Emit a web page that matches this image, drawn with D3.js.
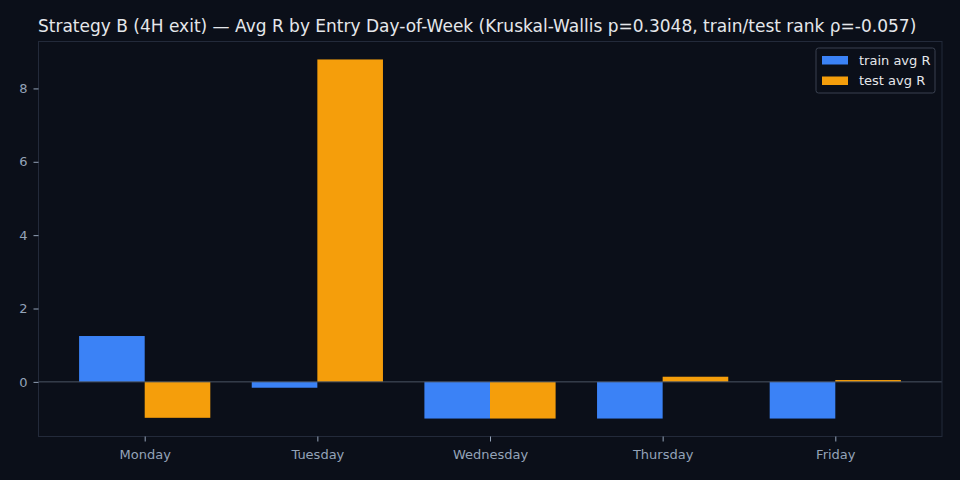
<!DOCTYPE html>
<html lang="en">
    <head>
        <meta charset="utf-8">
        <title>Strategy B Avg R by Entry Day</title>
        <script type="text/javascript" src="https://d3js.org/d3.v7.min.js"></script>
        <style type="text/css">
            body { margin: 0; background: #0b0f19; }
            svg { display: block; font-family: "DejaVu Sans", sans-serif; }
        </style>
    </head>
    <body>
        <script type="text/javascript">

        // Data
        const days = ["Monday", "Tuesday", "Wednesday", "Thursday", "Friday"];
        const trainAvgR = [1.25, -0.16, -1.0, -1.0, -1.0];
        const testAvgR = [-0.98, 8.79, -1.0, 0.14, 0.05];
        const yTicks = [0, 2, 4, 6, 8];
        const seriesNames = ["train avg R", "test avg R"];
        const seriesColors = ["#3b82f6", "#f59e0b"];
        const title = "Strategy B (4H exit) \u2014 Avg R by Entry Day-of-Week (Kruskal-Wallis p=0.3048, train/test rank \u03c1=-0.057)";

        const width = 960;
        const height = 480;
        const plot = {left: 38.5, right: 942, top: 41.5, bottom: 436.5};
        const barW = 0.38;

        // Scales (matplotlib-like 5% margins)
        const xMin = -barW, xMax = days.length - 1 + barW;
        const xPad = (xMax - xMin) * 0.05;
        const xScale = d3.scaleLinear()
                        .domain([xMin - xPad, xMax + xPad])
                        .range([plot.left - 0.5, plot.right]);

        const allVals = trainAvgR.concat(testAvgR, [0]);
        const yLo = d3.min(allVals), yHi = d3.max(allVals);
        const yPad = (yHi - yLo) * 0.05;
        const yScale = d3.scaleLinear()
                        .domain([yLo - yPad, yHi + yPad])
                        .range([plot.bottom, plot.top]);

        const svg = d3.select("body")
                    .append("svg")
                    .attr("width", width)
                    .attr("height", height);

        svg.append("rect")
            .attr("width", width).attr("height", height)
            .attr("fill", "#0b0f19");

        // Title
        svg.append("text")
            .attr("x", plot.left - 0.5)
            .attr("y", 31.5)
            .attr("fill", "#e5e7eb")
            .attr("font-size", 17)
            .text(title);

        // Bars
        const series = [trainAvgR, testAvgR];
        series.forEach((vals, s) => {
            svg.append("g").selectAll("rect")
                .data(vals)
                .enter()
                .append("rect")
                .attr("x", (d, i) => xScale(i + (s === 0 ? -barW : 0)))
                .attr("width", xScale(barW) - xScale(0))
                .attr("y", d => yScale(Math.max(d, 0)))
                .attr("height", d => Math.abs(yScale(d) - yScale(0)))
                .attr("fill", seriesColors[s]);
        });

        // Zero line
        svg.append("line")
            .attr("x1", plot.left).attr("x2", plot.right)
            .attr("y1", yScale(0)).attr("y2", yScale(0))
            .attr("stroke", "#4b5563")
            .attr("stroke-width", 1);

        // Frame
        svg.append("rect")
            .attr("x", plot.left).attr("y", plot.top)
            .attr("width", plot.right - plot.left)
            .attr("height", plot.bottom - plot.top)
            .attr("fill", "none")
            .attr("stroke", "#232a3a")
            .attr("stroke-width", 1);

        // Axes
        const bottomAxis = d3.axisBottom(xScale)
                            .tickValues(d3.range(days.length))
                            .tickFormat(i => days[i])
                            .tickSize(5)
                            .tickPadding(8)
                            .tickSizeOuter(0);
        const leftAxis = d3.axisLeft(yScale)
                            .tickValues(yTicks)
                            .tickSize(5)
                            .tickPadding(6)
                            .tickSizeOuter(0);

        const gx = svg.append("g")
            .attr("transform", "translate(0," + plot.bottom + ")")
            .call(bottomAxis);
        const gy = svg.append("g")
            .attr("transform", "translate(" + plot.left + ",0)")
            .call(leftAxis);

        [gx, gy].forEach(g => {
            g.select(".domain").remove();
            g.selectAll(".tick line").attr("stroke", "#94a3b8");
            g.selectAll(".tick text")
                .attr("fill", "#94a3b8")
                .attr("font-size", 13)
                .attr("font-family", "DejaVu Sans, sans-serif");
        });

        // Legend
        const legend = svg.append("g").attr("transform", "translate(816,48)");
        legend.append("rect")
            .attr("x", 0).attr("y", 0)
            .attr("width", 119).attr("height", 45)
            .attr("rx", 2.5)
            .attr("fill", "#0b0f19")
            .attr("stroke", "#3a4150")
            .attr("stroke-width", 1);
        seriesNames.forEach((name, s) => {
            legend.append("rect")
                .attr("x", 6).attr("y", 8 + s * 20.5)
                .attr("width", 26).attr("height", 8.5)
                .attr("fill", seriesColors[s]);
            legend.append("text")
                .attr("x", 43).attr("y", 16.5 + s * 20.5)
                .attr("fill", "#e5e7eb")
                .attr("font-size", 13)
                .text(name);
        });
        </script>
    </body>
</html>
